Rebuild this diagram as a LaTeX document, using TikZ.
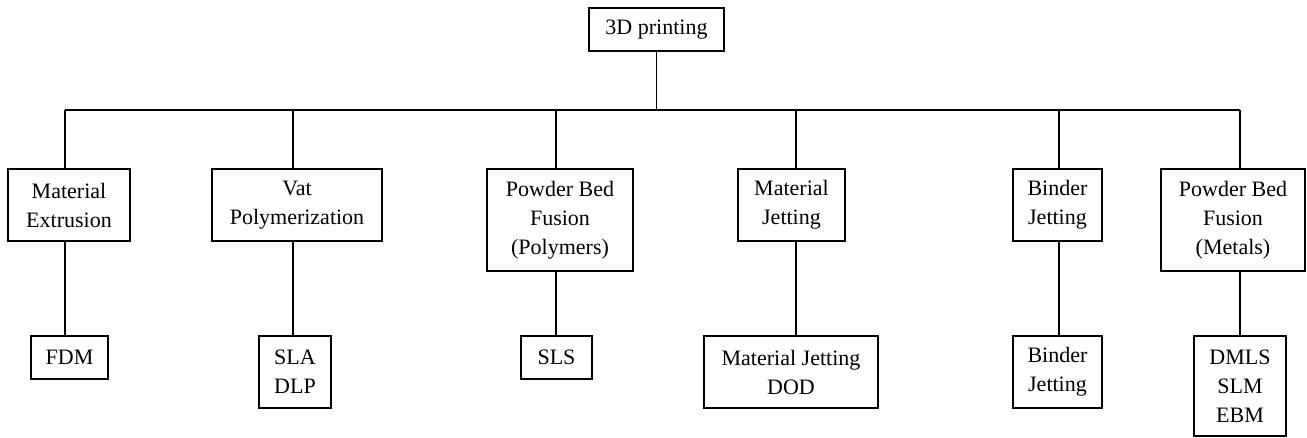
\documentclass[tikz,border=0pt]{standalone}
\usepackage{fontspec}
\setmainfont{Liberation Serif}
\begin{document}
\begin{tikzpicture}[x=1pt,y=-1pt,
  box/.style={draw=black, line width=1.6pt, inner sep=0pt, align=center,
    font=\fontsize{22}{29}\selectfont},
  conn/.style={draw=black, line width=1.6pt}]
\useasboundingbox (0,0) rectangle (1307,437);
% top
\node[box, minimum width=135pt, minimum height=43pt] (top) at (656.5,29.5) {3D printing};
% level 1
\node[box, minimum width=122pt, minimum height=72pt] (me) at (69,205) {Material\\Extrusion};
\node[box, minimum width=170pt, minimum height=72pt] (vp) at (297,205) {Vat\\Polymerization};
\node[box, minimum width=146pt, minimum height=102pt] (pbfp) at (560,220) {Powder Bed\\Fusion\\(Polymers)};
\node[box, minimum width=107pt, minimum height=72pt] (mj) at (791.5,205) {Material\\Jetting};
\node[box, minimum width=89pt, minimum height=72pt] (bj) at (1057.5,205) {Binder\\Jetting};
\node[box, minimum width=144pt, minimum height=102pt] (pbfm) at (1233,220) {Powder Bed\\Fusion\\(Metals)};
% level 2
\node[box, minimum width=77pt, minimum height=43pt] (fdm) at (69.5,357.5) {FDM};
\node[box, minimum width=72pt, minimum height=72pt] (sla) at (295,372) {SLA\\DLP};
\node[box, minimum width=71pt, minimum height=43pt] (sls) at (556.5,357.5) {SLS};
\node[box, minimum width=174pt, minimum height=72pt] (mjd) at (791,372) {Material Jetting\\DOD};
\node[box, minimum width=89pt, minimum height=72pt] (bj2) at (1057.5,372) {Binder\\Jetting};
\node[box, minimum width=92pt, minimum height=100pt] (dmls) at (1240,386) {DMLS\\SLM\\EBM};
% bus
\coordinate (b1) at (65,110);
\coordinate (b2) at (293,110);
\coordinate (b3) at (556,110);
\coordinate (b4) at (796,110);
\coordinate (b5) at (1059,110);
\coordinate (b6) at (1240,110);
\draw[conn] (top.south) -- (top.south |- b1);
\draw[conn] (b1) -- (b6);
\draw[conn] (b1) -- (b1 |- me.north);
\draw[conn] (b2) -- (b2 |- vp.north);
\draw[conn] (b3) -- (b3 |- pbfp.north);
\draw[conn] (b4) -- (b4 |- mj.north);
\draw[conn] (b5) -- (b5 |- bj.north);
\draw[conn] (b6) -- (b6 |- pbfm.north);
% level 1 to level 2
\draw[conn] (b1 |- me.south) -- (b1 |- fdm.north);
\draw[conn] (b2 |- vp.south) -- (b2 |- sla.north);
\draw[conn] (b3 |- pbfp.south) -- (b3 |- sls.north);
\draw[conn] (b4 |- mj.south) -- (b4 |- mjd.north);
\draw[conn] (b5 |- bj.south) -- (b5 |- bj2.north);
\draw[conn] (b6 |- pbfm.south) -- (b6 |- dmls.north);
\end{tikzpicture}
\end{document}
